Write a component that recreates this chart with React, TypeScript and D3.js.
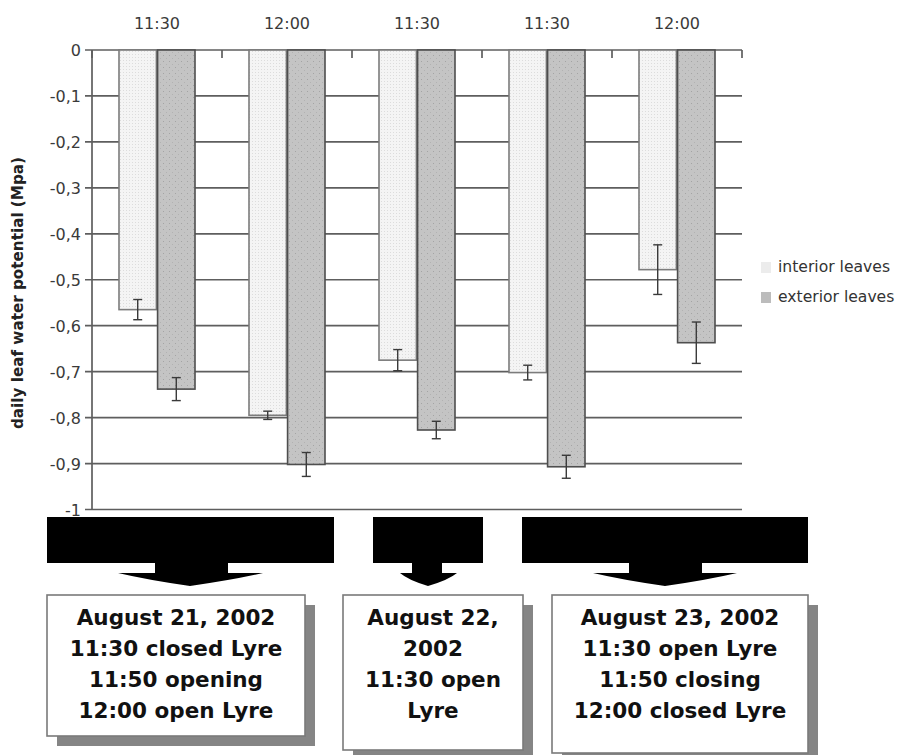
import React from 'react';
import * as d3 from 'd3';

const categories = ['11:30', '12:00', '11:30', '11:30', '12:00'];
const seriesNames = ['interior leaves', 'exterior leaves'];
const interior = [-0.565, -0.795, -0.675, -0.702, -0.478];
const interiorErr = [0.022, 0.009, 0.023, 0.016, 0.054];
const exterior = [-0.738, -0.902, -0.827, -0.907, -0.637];
const exteriorErr = [0.025, 0.026, 0.019, 0.025, 0.045];
const yTicks = [0, -0.1, -0.2, -0.3, -0.4, -0.5, -0.6, -0.7, -0.8, -0.9, -1];
const yTitle = 'daily leaf water potential (Mpa)';
const dayNotes = [
  ['August 21, 2002', '11:30 closed Lyre', '11:50 opening', '12:00 open Lyre'],
  ['August 22,', '2002', '11:30 open', 'Lyre'],
  ['August 23, 2002', '11:30 open Lyre', '11:50 closing', '12:00 closed Lyre'],
];

const W = 898;
const H = 755;
const M = { left: 92, right: 742, top: 50, bottom: 509.5 };

export default function App() {
  const x = d3.scaleBand<number>().domain(d3.range(categories.length)).range([M.left, M.right]);
  const sub = d3.scaleBand<number>().domain([0, 1]).range([27, 103]).paddingInner(0.03);
  const y = d3.scaleLinear().domain([-1, 0]).range([M.bottom, M.top]);
  const fmtTick = (v: number) => {
    if (v === 0) return '0';
    if (v === -1) return '-1';
    return '-' + d3.format('.1f')(Math.abs(v)).replace('.', ',');
  };

  const series = [
    { values: interior, errs: interiorErr, fill: 'url(#patInt)', stroke: '#7c7c7c' },
    { values: exterior, errs: exteriorErr, fill: 'url(#patExt)', stroke: '#4e4e4e' },
  ];

  const axisFont = 'DejaVu Sans, Verdana, sans-serif';
  const gridColor = '#5e5e5e';

  // annotation layout (arrows + boxes)
  const arrows = [
    { x0: 47, x1: 334, s0: 155, s1: 228, h0: 118, h1: 263, tip: 190 },
    { x0: 373, x1: 483, s0: 412, s1: 442, h0: 400, h1: 457, tip: 428 },
    { x0: 522, x1: 808, s0: 629, s1: 702, h0: 593, h1: 737, tip: 665 },
  ];
  const boxes = [
    { x: 47, y: 595, w: 258, h: 141 },
    { x: 343, y: 595, w: 180, h: 155 },
    { x: 552, y: 595, w: 256, h: 158 },
  ];

  return (
    <svg width={W} height={H} style={{ position: 'absolute', left: 0, top: 0, background: '#fff' }}>
      <defs>
        <pattern id="patInt" width="3" height="3" patternUnits="userSpaceOnUse">
          <rect width="3" height="3" fill="#f4f4f4" />
          <rect width="1" height="1" fill="#dcdcdc" />
        </pattern>
        <pattern id="patExt" width="6" height="6" patternUnits="userSpaceOnUse">
          <rect width="6" height="6" fill="#c4c4c4" />
          <rect x="1" y="1" width="1" height="1" fill="#a4a4a4" />
          <rect x="4" y="4" width="1" height="1" fill="#b2b2b2" />
        </pattern>
      </defs>

      {/* gridlines */}
      {yTicks.map((t) => (
        <line key={'g' + t} x1={M.left - 7} x2={M.right} y1={y(t)} y2={y(t)} stroke={gridColor} strokeWidth={1.7} />
      ))}
      {/* left axis */}
      <line x1={M.left} x2={M.left} y1={M.top} y2={M.bottom} stroke={gridColor} strokeWidth={1.7} />
      {/* category ticks on top axis */}
      {d3.range(categories.length + 1).map((i) => {
        const xx = i < categories.length ? (x(i) as number) : M.right;
        return <line key={'ct' + i} x1={xx} x2={xx} y1={M.top} y2={M.top + 8} stroke={gridColor} strokeWidth={1.7} />;
      })}

      {/* y tick labels */}
      {yTicks.map((t) => (
        <text key={'yl' + t} x={81} y={y(t) + 6} textAnchor="end" fontFamily={axisFont} fontSize={16} fill="#3a3a3a">
          {fmtTick(t)}
        </text>
      ))}

      {/* category labels */}
      {categories.map((c, i) => (
        <text key={'cl' + i} x={(x(i) as number) + x.bandwidth() / 2} y={28.5} textAnchor="middle" fontFamily={axisFont} fontSize={16} fill="#3a3a3a">
          {c}
        </text>
      ))}

      {/* y title */}
      <text
        transform={`translate(23,${293}) rotate(-90)`}
        textAnchor="middle"
        fontFamily={axisFont}
        fontWeight="bold"
        fontSize={15.2}
        fill="#222"
      >
        {yTitle}
      </text>

      {/* bars */}
      {series.map((s, si) =>
        s.values.map((v, i) => {
          const bx = (x(i) as number) + (sub(si) as number);
          const bw = sub.bandwidth();
          return (
            <rect key={'b' + si + '-' + i} x={bx} y={y(0)} width={bw} height={y(v) - y(0)} fill={s.fill} stroke={s.stroke} strokeWidth={1.6} />
          );
        })
      )}

      {/* error bars */}
      {series.map((s, si) =>
        s.values.map((v, i) => {
          const cx = (x(i) as number) + (sub(si) as number) + sub.bandwidth() / 2;
          const e = s.errs[i];
          const y1 = y(v + e);
          const y2 = y(v - e);
          return (
            <g key={'e' + si + '-' + i} stroke="#3a3a3a" strokeWidth={1.4}>
              <line x1={cx} x2={cx} y1={y1} y2={y2} />
              <line x1={cx - 4.5} x2={cx + 4.5} y1={y1} y2={y1} />
              <line x1={cx - 4.5} x2={cx + 4.5} y1={y2} y2={y2} />
            </g>
          );
        })
      )}

      {/* legend */}
      {seriesNames.map((n, i) => (
        <g key={'lg' + i} transform={`translate(761,${262 + i * 30})`}>
          <rect width={10} height={11} fill={i === 0 ? '#ececec' : '#bcbcbc'} />
          <text x={17} y={10} fontFamily={axisFont} fontSize={15.6} fill="#333">
            {n}
          </text>
        </g>
      ))}

      {/* arrows */}
      {arrows.map((a, i) => (
        <path
          key={'ar' + i}
          d={`M${a.x0},517 L${a.x1},517 L${a.x1},563 L${a.s1},563 L${a.s1},573 L${a.h1},573 Q${(a.h1 + a.tip) / 2 + 6},580 ${a.tip},586 Q${(a.h0 + a.tip) / 2 - 6},580 ${a.h0},573 L${a.s0},573 L${a.s0},563 L${a.x0},563 Z`}
          fill="#000"
        />
      ))}

      {/* note boxes */}
      {boxes.map((b, i) => (
        <g key={'bx' + i}>
          <rect x={b.x + 10} y={b.y + 10} width={b.w} height={b.h} fill="#858585" />
          <rect x={b.x} y={b.y} width={b.w} height={b.h} fill="#fff" stroke="#7a7a7a" strokeWidth={1.6} />
          {dayNotes[i].map((line, li) => (
            <text
              key={li}
              x={b.x + b.w / 2}
              y={617 + li * 31 + 8}
              textAnchor="middle"
              fontFamily="DejaVu Sans, Verdana, sans-serif"
              fontWeight="bold"
              fontSize={21.5}
              fill="#111"
            >
              {line}
            </text>
          ))}
        </g>
      ))}
    </svg>
  );
}
